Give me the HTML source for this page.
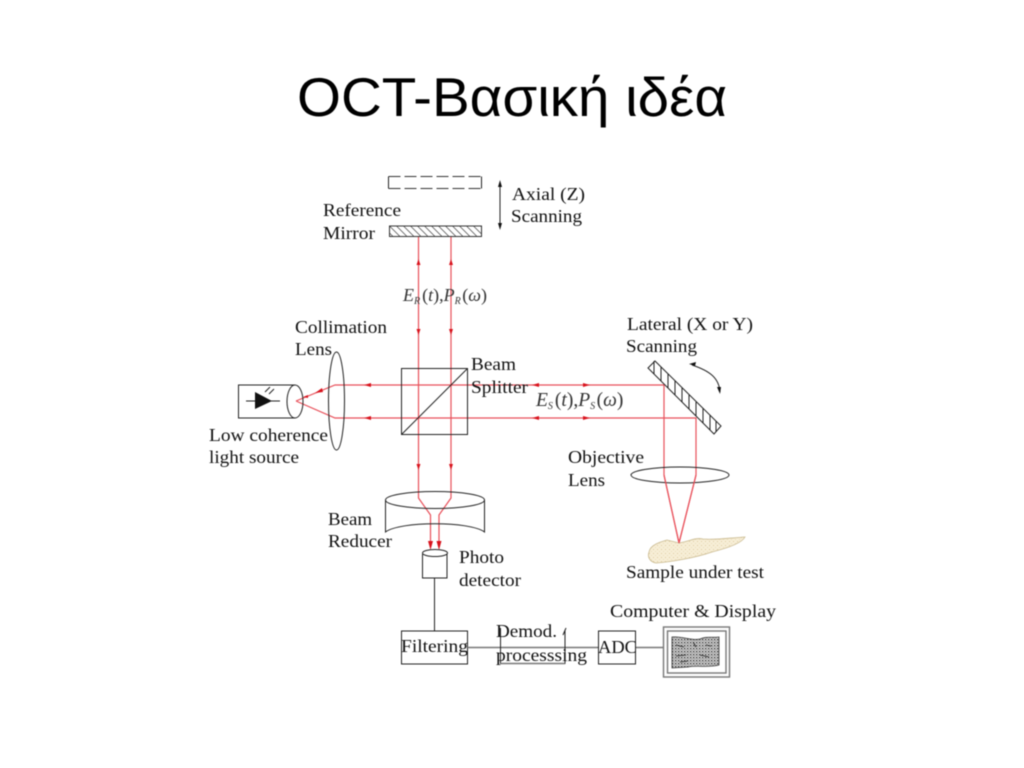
<!DOCTYPE html>
<html lang="el">
<head>
<meta charset="utf-8">
<title>OCT-Βασική ιδέα</title>
<style>
html,body{margin:0;padding:0;width:1024px;height:768px;background:#fff;overflow:hidden}
svg{display:block}
.d{filter:blur(0.4px)}
.t{font-family:"Liberation Serif",serif;font-size:17.5px;fill:#111}
.m{font-family:"Liberation Serif",serif;font-size:18px;fill:#333}
.i{font-style:italic}
.s{font-size:10px}
.k{fill:none;stroke:#222;stroke-width:1}
.g{fill:none;stroke:#777;stroke-width:1.4}
.r{fill:none;stroke:#e8505a;stroke-width:1.2}
.a{fill:#d8121c}
</style>
</head>
<body>
<svg width="1024" height="768" viewBox="0 0 1024 768" xmlns="http://www.w3.org/2000/svg">
<defs>
<pattern id="h1" width="7" height="10" patternUnits="userSpaceOnUse" patternTransform="translate(389 226) skewX(45)">
<rect width="7" height="10" fill="#fff"/>
<path d="M0.500 0V10" stroke="#444" stroke-width="1"/>
</pattern>
<pattern id="dots" width="3" height="3" patternUnits="userSpaceOnUse">
<rect width="3" height="3" fill="#ccc"/>
<rect x="0" y="0" width="1.300" height="1.300" fill="#333"/>
<rect x="1.600" y="1.600" width="0.900" height="0.900" fill="#777"/>
</pattern>
<pattern id="speck" width="4" height="4" patternUnits="userSpaceOnUse">
<rect width="4" height="4" fill="#f7eed7"/>
<rect x="1" y="1" width="1" height="1" fill="#dccb9f"/>
<rect x="3" y="3" width="1" height="1" fill="#e8dbb7"/>
</pattern>
</defs>

<g class="d">
<text x="297" y="116" font-family="'Liberation Sans',sans-serif" font-size="55" fill="#000" textLength="430" lengthAdjust="spacingAndGlyphs">OCT-Βασική ιδέα</text>

<!-- reference mirror -->
<path d="M388.500 176.500H481.500M388.500 188.500H481.500" fill="none" stroke="#333" stroke-dasharray="12 4"/>
<path class="k" d="M388.500 176.500V188.500M481.500 176.500V188.500"/>
<rect x="389.500" y="226" width="92" height="10.500" fill="url(#h1)" stroke="#333"/>
<path class="k" d="M500 182V226"/>
<path d="M500 180l-2 7h4zM500 230l-2-7h4z" fill="#111"/>

<!-- red beams -->
<path class="r" d="M418.500 237V498L430.500 515V545"/>
<path class="r" d="M451 237V498L439 515V545"/>
<path class="r" d="M296 401L335 385H664V475L679 543L696 475V418H335L296 401"/>
<path class="a" d="M418.500 259l-2 6h4zM451 259l-2 6h4zM418.500 335l-2-6h4zM451 335l-2-6h4zM418.500 470l-2-6h4zM451 470l-2-6h4zM430.500 550l-2.500-9h5zM439 550l-2.500-9h5z"/>
<path class="a" d="M364 385l7-2v4zM364 418l7-2v4zM532 385l7-2v4zM532 418l7-2v4zM590 385l-7-2v4zM590 418l-7-2v4zM315 393l7-5 1 4zM303 397l5-2v3z"/>

<!-- source -->
<path class="k" d="M295 385H238.500V418H295"/>
<ellipse class="k" cx="295" cy="401.500" rx="8" ry="16.500"/>
<path class="k" d="M246 401H280"/>
<path d="M255 392L272 401L255 409Z" fill="#111"/>
<path class="k" d="M265 392l5-5M269 394l5-5"/>
<ellipse class="k" cx="336.500" cy="401" rx="8" ry="49"/>

<!-- beam splitter -->
<rect class="k" x="401.500" y="368.500" width="66" height="66"/>
<path class="k" d="M402 434L467 369"/>

<!-- lateral mirror -->
<path class="k" d="M655 361L721 426L714 434L648 368Z"/>
<path class="k" d="M654 361V374M661 367V381M668 374V388M675 381V395M682 388V402M689 395V409M696 402V416M703 408V423M710 415V430M716 421V432"/>
<path class="k" d="M692 365C710 371 719 378 720 392"/>
<path d="M689 364l7-2-1 4zM720 394l-3-7 4 0z" fill="#111"/>

<ellipse class="k" cx="680" cy="475" rx="49" ry="8"/>
<path d="M649 552C650 545 660 542 667 540L679 543C688 542 695 537 703 539C715 540 730 538 745 537C742 543 728 548 712 552C695 558 670 562 656 563C650 562 647 557 649 552Z" fill="url(#speck)" stroke="#c9b98e" stroke-width="0.8"/>
<path class="r" d="M664 475L679 543L696 475"/>

<!-- beam reducer -->
<ellipse class="k" cx="435" cy="500" rx="49.500" ry="8.500"/>
<path class="k" d="M385.500 500V532C400 521 470 521 484.500 532V500"/>

<!-- detector -->
<path class="k" d="M422.500 554V578H447V554"/>
<ellipse class="k" cx="435" cy="553" rx="12.500" ry="3.500"/>
<path class="k" d="M434.500 578V631"/>

<!-- blocks -->
<rect class="k" x="401.500" y="631" width="66" height="33"/>
<path class="g" d="M467.500 647.500H598M635 647.500H663"/>
<path class="k" d="M500.500 628V664M565 630V664M563 635L566 628"/>
<path class="g" d="M500.500 663.500H565"/>
<rect class="k" x="598.500" y="631" width="37" height="33"/>
<rect class="g" x="663.500" y="627" width="66" height="50"/>
<rect class="g" x="667.500" y="631" width="58.500" height="42"/>
<path d="M672 637C682 636 692 641 700 639C706 636 712 638 719 637V665C708 668 698 665 688 667L672 668Z" fill="url(#dots)" stroke="#333" stroke-width="0.8"/>
<path d="M676 645l8 2M693 642l3 5M676 656l10-1M700 655l9 2M680 662l8-1M706 645l5 1" fill="none" stroke="#222" stroke-width="0.800"/>

<!-- labels -->
<text class="t" x="512" y="200" textLength="73" lengthAdjust="spacingAndGlyphs">Axial (Z)</text>
<text class="t" x="511" y="222" textLength="71" lengthAdjust="spacingAndGlyphs">Scanning</text>
<text class="t" x="323" y="216" textLength="78" lengthAdjust="spacingAndGlyphs">Reference</text>
<text class="t" x="323" y="239" textLength="52" lengthAdjust="spacingAndGlyphs">Mirror</text>
<text class="t" x="295" y="333" textLength="92" lengthAdjust="spacingAndGlyphs">Collimation</text>
<text class="t" x="295" y="355" textLength="37" lengthAdjust="spacingAndGlyphs">Lens</text>
<text class="t" x="471" y="370" textLength="45" lengthAdjust="spacingAndGlyphs">Beam</text>
<text class="t" x="471" y="393" textLength="57" lengthAdjust="spacingAndGlyphs">Splitter</text>
<text class="t" x="209" y="441" textLength="119" lengthAdjust="spacingAndGlyphs">Low coherence</text>
<text class="t" x="209" y="463" textLength="90" lengthAdjust="spacingAndGlyphs">light source</text>
<text class="t" x="627" y="330" textLength="126" lengthAdjust="spacingAndGlyphs">Lateral (X or Y)</text>
<text class="t" x="626" y="352" textLength="71" lengthAdjust="spacingAndGlyphs">Scanning</text>
<text class="t" x="568" y="463" textLength="76" lengthAdjust="spacingAndGlyphs">Objective</text>
<text class="t" x="568" y="486" textLength="37" lengthAdjust="spacingAndGlyphs">Lens</text>
<text class="t" x="626" y="578" textLength="138" lengthAdjust="spacingAndGlyphs">Sample under test</text>
<text class="t" x="328" y="525" textLength="44" lengthAdjust="spacingAndGlyphs">Beam</text>
<text class="t" x="328" y="547" textLength="64" lengthAdjust="spacingAndGlyphs">Reducer</text>
<text class="t" x="459" y="563" textLength="45" lengthAdjust="spacingAndGlyphs">Photo</text>
<text class="t" x="459" y="586" textLength="62" lengthAdjust="spacingAndGlyphs">detector</text>
<text class="t" x="610" y="617" textLength="166" lengthAdjust="spacingAndGlyphs">Computer &amp; Display</text>
<text class="t" x="401" y="652" textLength="67" lengthAdjust="spacingAndGlyphs">Filtering</text>
<text class="t" x="496" y="637" textLength="61" lengthAdjust="spacingAndGlyphs">Demod.</text>
<text class="t" x="496" y="661" textLength="91" lengthAdjust="spacingAndGlyphs">processsing</text>
<text class="t" x="598" y="653" textLength="39" lengthAdjust="spacingAndGlyphs">ADC</text>

<text class="m" x="403" y="301"><tspan class="i">E</tspan><tspan class="i s" dy="3">R</tspan><tspan dy="-3" dx="2">(</tspan><tspan class="i">t</tspan><tspan>),</tspan><tspan class="i">P</tspan><tspan class="i s" dy="3">R</tspan><tspan dy="-3" dx="1.500">(</tspan><tspan class="i">ω</tspan><tspan>)</tspan></text>
<text class="m" x="536" y="406" style="font-size:19.500px"><tspan class="i">E</tspan><tspan class="i s" dy="3">S</tspan><tspan dy="-3" dx="2">(</tspan><tspan class="i">t</tspan><tspan>),</tspan><tspan class="i">P</tspan><tspan class="i s" dy="3">S</tspan><tspan dy="-3" dx="1.500">(</tspan><tspan class="i">ω</tspan><tspan>)</tspan></text>
</g>
</svg>
</body>
</html>
